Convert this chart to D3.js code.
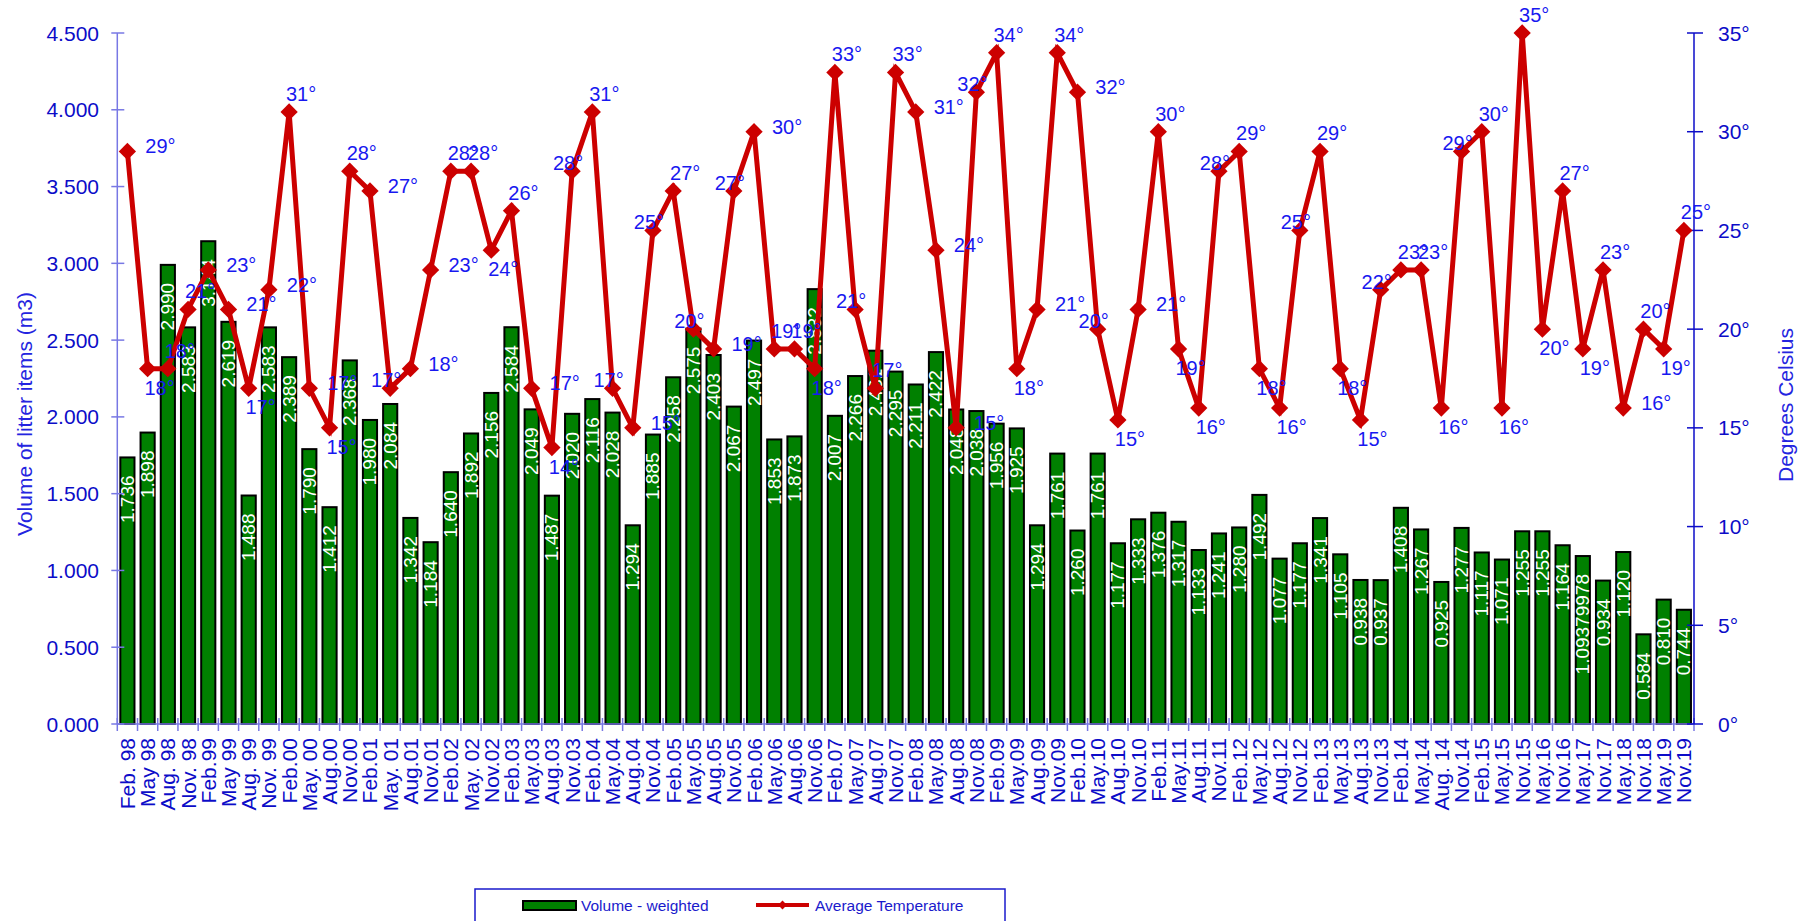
<!DOCTYPE html>
<html>
<head>
<meta charset="utf-8">
<script src="https://cdn.jsdelivr.net/npm/d3@7"></script>
<style>
  body { margin: 0; background: #fff; }
  text { font-family: "Liberation Sans", Arial, sans-serif; }
</style>
</head>
<body>
<div id="chart"></div>
<script type="text/javascript">
// survey dates (x categories)
var dates = ["Feb. 98","May 98","Aug. 98","Nov. 98","Feb.99","May 99","Aug. 99","Nov. 99",
  "Feb.00","May. 00","Aug.00","Nov.00","Feb.01","May. 01","Aug.01","Nov.01",
  "Feb.02","May. 02","Nov.02","Feb.03","May.03","Aug.03","Nov.03","Feb.04",
  "May.04","Aug.04","Nov.04","Feb.05","May.05","Aug.05","Nov.05","Feb.06",
  "May.06","Aug.06","Nov.06","Feb.07","May.07","Aug.07","Nov.07","Feb.08",
  "May.08","Aug.08","Nov.08","Feb.09","May.09","Aug.09","Nov.09","Feb.10",
  "May.10","Aug.10","Nov.10","Feb.11","May.11","Aug.11","Nov.11","Feb.12",
  "May.12","Aug.12","Nov.12","Feb.13","May.13","Aug.13","Nov.13","Feb.14",
  "May.14","Aug. 14","Nov.14","Feb.15","May.15","Nov.15","May.16","Nov.16",
  "May.17","Nov.17","May.18","Nov.18","May.19","Nov.19"];

// volume - weighted (m3)
var volume = [1.736,1.898,2.990,2.583,3.144,2.619,1.488,2.583,
  2.389,1.790,1.412,2.368,1.980,2.084,1.342,1.184,
  1.640,1.892,2.156,2.584,2.049,1.487,2.020,2.116,
  2.028,1.294,1.885,2.258,2.575,2.403,2.067,2.497,
  1.853,1.873,2.832,2.007,2.266,2.431,2.295,2.211,
  2.422,2.048,2.038,1.956,1.925,1.294,1.761,1.260,
  1.761,1.177,1.333,1.376,1.317,1.133,1.241,1.280,
  1.492,1.077,1.177,1.341,1.105,0.938,0.937,1.408,
  1.267,0.925,1.277,1.117,1.071,1.255,1.255,1.164,
  1.09379978,0.934,1.120,0.584,0.810,0.744];

// average temperature (degrees C)
var temperature = [29,18,18,21,23,21,17,22,
  31,17,15,28,27,17,18,23,
  28,28,24,26,17,14,28,31,
  17,15,25,27,20,19,27,30,
  19,19,18,33,21,17,33,31,
  24,15,32,34,18,21,34,32,
  20,15.4,21,30,19,16,28,29,
  18,16,25,29,18,15.4,22,23,
  23,16,29,30,16,35,20,27,
  19,23,16,20,19,25];

// where each temperature label sits: r = right, a = above, b = below, o = on the marker
var labelPlace = ["r","b","a","a","r","r","b","r",
  "a","r","b","a","r","o","r","r",
  "a","a","b","a","r","b","o","a",
  "o","r","o","a","o","r","o","r",
  "a","a","b","a","o","a","a","r",
  "r","r","o","a","b","r","a","r",
  "o","b","r","a","b","b","o","a",
  "b","b","o","a","b","b","o","a",
  "a","b","o","a","b","a","b","a",
  "b","a","r","a","b","a"];

var volTicks = [0,0.5,1,1.5,2,2.5,3,3.5,4,4.5];
var tempTicks = [0,5,10,15,20,25,30,35];

function drawChart() {
  var W = 1818, H = 921;
  var pLeft = 117.3, pRight = 1694, pTop = 33, pBottom = 724;
  var blue = "#0c0cc8", lightBlue = "#7878e4", red = "#cc0000", green = "#008000";

  var svg = d3.select("#chart").append("svg")
      .attr("width", W)
      .attr("height", H);

  // scales
  var x = d3.scaleBand().domain(dates).range([pLeft, pRight]).paddingInner(0.3).paddingOuter(0.15);
  var y = d3.scaleLinear().domain([0, 4.5]).range([pBottom, pTop]);
  var y2 = d3.scaleLinear().domain([0, 35]).range([pBottom, pTop]);
  var step = x.step();

  // bars
  svg.append("g").selectAll("rect")
      .data(volume)
    .enter().append("rect")
      .attr("x", function(d, i) { return x(dates[i]); })
      .attr("y", function(d) { return y(d); })
      .attr("width", x.bandwidth())
      .attr("height", function(d) { return pBottom - y(d); })
      .attr("fill", green)
      .attr("stroke", "#000")
      .attr("stroke-width", 2);

  // bar value labels, rotated inside the bar top
  var fmtVol = function(d) { return String(d).length > 5 ? String(d) : d3.format(".3f")(d); };
  svg.append("g").selectAll("text")
      .data(volume)
    .enter().append("text")
      .attr("transform", function(d, i) {
        return "translate(" + (x(dates[i]) + x.bandwidth() / 2 + 6.5) + "," + (y(d) + 18) + ") rotate(-90)";
      })
      .attr("text-anchor", "end")
      .attr("fill", "#fff")
      .style("font-size", "19px")
      .text(fmtVol);

  // left axis
  var gl = svg.append("g");
  gl.append("line").attr("x1", pLeft).attr("x2", pLeft).attr("y1", pTop).attr("y2", pBottom)
      .attr("stroke", lightBlue).attr("stroke-width", 1.5);
  gl.selectAll(".t").data(volTicks).enter().append("line")
      .attr("x1", pLeft - 6).attr("x2", pLeft + 7)
      .attr("y1", function(d) { return y(d); }).attr("y2", function(d) { return y(d); })
      .attr("stroke", lightBlue).attr("stroke-width", 1.5);
  gl.selectAll("text").data(volTicks).enter().append("text")
      .attr("x", 99).attr("y", function(d) { return y(d); })
      .attr("dy", "0.36em").attr("text-anchor", "end")
      .attr("fill", blue).style("font-size", "21px")
      .text(function(d) { return d3.format(".3f")(d); });

  // bottom axis with ticks between categories
  var gb = svg.append("g");
  gb.append("line").attr("x1", pLeft).attr("x2", pRight).attr("y1", pBottom).attr("y2", pBottom)
      .attr("stroke", lightBlue).attr("stroke-width", 1.5);
  gb.selectAll(".t").data(d3.range(dates.length + 1)).enter().append("line")
      .attr("x1", function(i) { return pLeft + i * step; })
      .attr("x2", function(i) { return pLeft + i * step; })
      .attr("y1", pBottom - 6).attr("y2", pBottom + 7)
      .attr("stroke", lightBlue).attr("stroke-width", 1.5);
  gb.selectAll("text").data(dates).enter().append("text")
      .attr("transform", function(d) {
        return "translate(" + (x(d) + x.bandwidth() / 2 + 7.5) + "," + (pBottom + 14) + ") rotate(-90)";
      })
      .attr("text-anchor", "end")
      .attr("fill", blue).style("font-size", "21px")
      .text(function(d) { return d; });

  // right axis
  var gr = svg.append("g");
  gr.append("line").attr("x1", pRight).attr("x2", pRight).attr("y1", pTop).attr("y2", pBottom)
      .attr("stroke", blue).attr("stroke-width", 1.5);
  gr.selectAll(".t").data(tempTicks).enter().append("line")
      .attr("x1", pRight - 7).attr("x2", pRight + 9)
      .attr("y1", function(d) { return y2(d); }).attr("y2", function(d) { return y2(d); })
      .attr("stroke", blue).attr("stroke-width", 1.5);
  gr.selectAll("text").data(tempTicks).enter().append("text")
      .attr("x", 1718).attr("y", function(d) { return y2(d); })
      .attr("dy", "0.36em")
      .attr("fill", blue).style("font-size", "21px")
      .text(function(d) { return d + "\u00b0"; });

  // axis titles
  svg.append("text")
      .attr("transform", "translate(32,414) rotate(-90)")
      .attr("text-anchor", "middle")
      .attr("fill", "#2424e0").style("font-size", "21px")
      .text("Volume of litter items (m3)");
  svg.append("text")
      .attr("transform", "translate(1793,405) rotate(-90)")
      .attr("text-anchor", "middle")
      .attr("fill", "#2424e0").style("font-size", "21px")
      .text("Degrees Celsius");

  // temperature line
  var cx = function(i) { return x(dates[i]) + x.bandwidth() / 2; };
  var tempLine = d3.line()
      .x(function(d, i) { return cx(i); })
      .y(function(d) { return y2(d); });

  svg.append("path")
      .datum(temperature)
      .attr("d", tempLine)
      .attr("fill", "none")
      .attr("stroke", red)
      .attr("stroke-width", 5)
      .attr("stroke-linejoin", "miter");

  svg.append("g").selectAll("path")
      .data(temperature)
    .enter().append("path")
      .attr("d", d3.symbol().type(d3.symbolDiamond2).size(190))
      .attr("transform", function(d, i) { return "translate(" + cx(i) + "," + y2(d) + ")"; })
      .attr("fill", red);

  // temperature labels
  var offs = { r: [33, -5], a: [12, -18], b: [12, 19], o: [-4, -8] };
  svg.append("g").selectAll("text")
      .data(temperature)
    .enter().append("text")
      .attr("x", function(d, i) { return cx(i) + offs[labelPlace[i]][0]; })
      .attr("y", function(d, i) { return y2(d) + offs[labelPlace[i]][1]; })
      .attr("dy", "0.35em")
      .attr("text-anchor", "middle")
      .attr("fill", "#1818f0").style("font-size", "20px")
      .text(function(d) { return Math.round(d) + "\u00b0"; });

  // legend
  var lg = svg.append("g");
  lg.append("rect").attr("x", 475).attr("y", 889).attr("width", 530).attr("height", 50)
      .attr("fill", "#fff").attr("stroke", "#1a1acc").attr("stroke-width", 1.5);
  lg.append("rect").attr("x", 523).attr("y", 901).attr("width", 53).attr("height", 9)
      .attr("fill", green).attr("stroke", "#000").attr("stroke-width", 2);
  lg.append("text").attr("x", 581).attr("y", 911)
      .attr("fill", "#1a1acc").style("font-size", "15.5px").text("Volume - weighted");
  lg.append("line").attr("x1", 756).attr("x2", 809).attr("y1", 905).attr("y2", 905)
      .attr("stroke", red).attr("stroke-width", 4);
  lg.append("path")
      .attr("d", d3.symbol().type(d3.symbolDiamond2).size(50))
      .attr("transform", "translate(782.5,905)")
      .attr("fill", red);
  lg.append("text").attr("x", 815).attr("y", 911)
      .attr("fill", "#1a1acc").style("font-size", "15.5px").text("Average Temperature");
}
drawChart();
</script>
</body>
</html>
